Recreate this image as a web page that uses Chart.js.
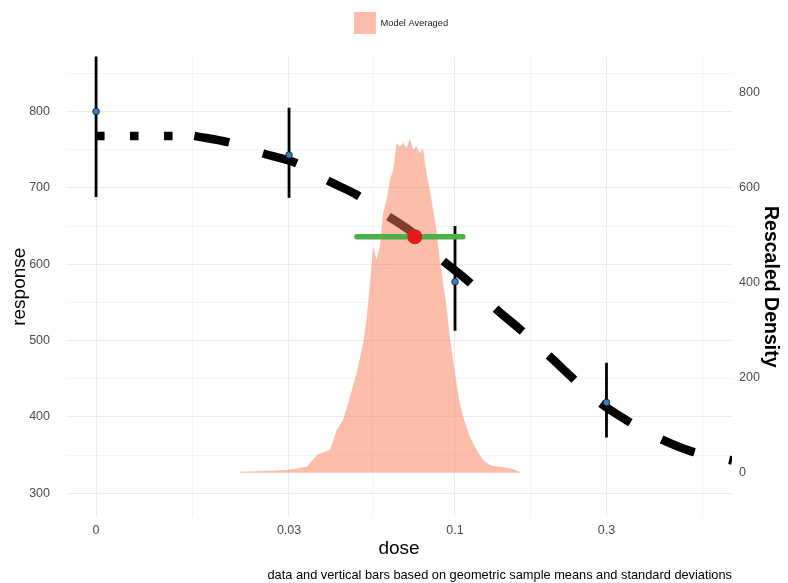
<!DOCTYPE html>
<html lang="en">
<head>
<meta charset="UTF-8" />
<title>Model averaged dose response</title>
<script src="https://cdn.jsdelivr.net/npm/chart.js"></script>
<style>
  body { margin: 0; background: #ffffff; }
  #wrap { width: 788px; height: 583px; }
</style>
</head>
<body>
<div id="wrap"><canvas id="doseChart" width="788" height="583"></canvas></div>
<script>
  // dose 0 has no place on a log axis, so it sits at this stand-in value
  const zeroDose = 0.0074;

  // observed groups (geometric mean and bar ends)
  const obsDose = [0, 0.03, 0.1, 0.3];
  const obsMean = [800, 743, 577, 419];
  const obsLow = [688, 687, 513, 373];
  const obsHigh = [930, 805, 650, 471];

  // model averaged curve: flat dotted piece, then dashed piece
  const flatDose = [0, 0.0151];
  const flatResp = [768, 768];
  const curveDose = [0.0151, 0.0196, 0.0249, 0.0318, 0.0395, 0.0494, 0.0610, 0.0731, 0.0908, 0.1113,
    0.1333, 0.1621, 0.1943, 0.2345, 0.2811, 0.3493, 0.4405, 0.5553, 0.7460];
  const curveResp = [768, 759, 745, 732, 710, 690, 664, 642, 606, 576,
    543, 513, 483, 451, 421, 395, 372, 355, 343];

  // BMD and its interval
  const bmdDose = [0.0747];
  const bmdResp = [636];
  const bmdRange = [0.0491, 0.1058];

  // rescaled density of the BMD
  const densDose = [0.0210, 0.0240, 0.0261, 0.0300, 0.0342, 0.0367, 0.0404, 0.0424, 0.0444, 0.0467,
    0.0490, 0.0514, 0.0527, 0.0539, 0.0552, 0.0566, 0.0580, 0.0594, 0.0609, 0.0624,
    0.0639, 0.0655, 0.0670, 0.0686, 0.0704, 0.0721, 0.0738, 0.0756, 0.0775, 0.0793,
    0.0813, 0.0833, 0.0853, 0.0874, 0.0895, 0.0917, 0.0940, 0.0963, 0.0986, 0.1010,
    0.1035, 0.1060, 0.1113, 0.1168, 0.1225, 0.1286, 0.1350, 0.1486, 0.1598];
  const densValue = [2, 3, 4, 6, 13, 37, 48, 90, 111, 160,
    210, 273, 328, 392, 476, 448, 476, 547, 574, 616,
    637, 693, 686, 694, 683, 704, 679, 686, 672, 683,
    630, 595, 553, 511, 448, 399, 349, 286, 237, 189,
    147, 118, 76, 48, 27, 16, 13, 10, 2];

  // axes
  const xTicks = [zeroDose, 0.0149, 0.03, 0.0548, 0.1, 0.1732, 0.3, 0.6034];
  const xLabels = ['0', '', '0.03', '', '0.1', '', '0.3', ''];
  const yTicks = [300, 350, 400, 450, 500, 550, 600, 650, 700, 750, 800, 850];
  const densTicks = [0, 200, 400, 600, 800];

  const caption = 'data and vertical bars based on geometric sample means and standard deviations';

  const pos = d => (d === 0 ? zeroDose : d);
  const pts = (xs, ys) => xs.map((x, i) => ({ x: pos(x), y: ys[i] }));

  const errData = [];
  obsDose.forEach((d, i) => {
    errData.push({ x: pos(d), y: obsLow[i] }, { x: pos(d), y: obsHigh[i] }, { x: pos(d), y: null });
  });

  Chart.defaults.font.family = "'Liberation Sans', Arial, sans-serif";
  const tickFont = { size: 12.5 };
  const tickColor = '#4D4D4D';
  const gridColor = '#EBEBEB';

  // ggplot leaves more room under the legend than Chart.js does,
  // and its key sits a little right of centre
  const legendGap = {
    id: 'legendGap',
    afterInit(chart) {
      const fit = chart.legend.fit;
      chart.legend.fit = function () {
        fit.call(this);
        this.height += 12.5;
        if (this.lineWidths) this.lineWidths[0] -= 14;
      };
    }
  };

  const captionPlugin = {
    id: 'caption',
    afterDraw(chart) {
      const ctx = chart.ctx;
      ctx.save();
      ctx.font = "12.8px 'Liberation Sans', Arial, sans-serif";
      ctx.fillStyle = '#000';
      ctx.textAlign = 'right';
      ctx.textBaseline = 'middle';
      ctx.fillText(caption, chart.chartArea.right, chart.height - 8);
      ctx.restore();
    }
  };

  new Chart(document.getElementById('doseChart'), {
    type: 'line',
    data: {
      datasets: [
        {
          label: 'flat',
          data: pts(flatDose, flatResp),
          borderColor: '#000',
          borderWidth: 8.5,
          borderDash: [8.5, 25.5],
          borderCapStyle: 'butt',
          pointRadius: 0,
          order: 6
        },
        {
          label: 'curve',
          data: pts(curveDose, curveResp),
          borderColor: '#000',
          borderWidth: 8.5,
          borderDash: [35.4, 35.4],
          borderCapStyle: 'butt',
          cubicInterpolationMode: 'monotone',
          pointRadius: 0,
          order: 6
        },
        {
          label: 'Model Averaged',
          data: pts(densDose, densValue),
          yAxisID: 'y2',
          borderWidth: 0,
          borderColor: 'rgba(0,0,0,0)',
          backgroundColor: 'rgba(250,125,85,0.5)',
          fill: 'origin',
          pointRadius: 0,
          order: 5
        },
        {
          label: 'bars',
          data: errData,
          borderColor: '#000',
          borderWidth: 2.8,
          borderCapStyle: 'butt',
          spanGaps: false,
          pointRadius: 0,
          order: 4
        },
        {
          label: 'means',
          data: pts(obsDose, obsMean),
          showLine: false,
          pointRadius: 3.3,
          pointBackgroundColor: '#3A7DC0',
          pointBorderColor: '#111',
          pointBorderWidth: 0.8,
          order: 3
        },
        {
          label: 'bmdl',
          data: pts(bmdRange, [bmdResp[0], bmdResp[0]]),
          borderColor: '#4DAF4A',
          borderWidth: 5.5,
          borderCapStyle: 'round',
          pointRadius: 0,
          order: 2
        },
        {
          label: 'bmd',
          data: pts(bmdDose, bmdResp),
          showLine: false,
          pointRadius: 7.5,
          pointBackgroundColor: '#E41A1C',
          pointBorderWidth: 0,
          order: 1
        }
      ]
    },
    options: {
      responsive: false,
      animation: false,
      layout: { padding: 0 },
      plugins: {
        legend: {
          position: 'top',
          labels: {
            boxWidth: 22,
            boxHeight: 22,
            padding: 12,
            color: '#222',
            font: { size: 9.3 },
            filter: item => item.text === 'Model Averaged'
          }
        },
        tooltip: { enabled: false }
      },
      scales: {
        x: {
          type: 'logarithmic',
          min: 0.00595,
          max: 0.7456,
          afterBuildTicks: s => { s.ticks = xTicks.map(v => ({ value: v })); },
          afterFit: s => { s.height = 66; },
          ticks: {
            autoSkip: false,
            maxRotation: 0,
            minRotation: 0,
            padding: 6,
            font: tickFont,
            color: tickColor,
            callback: (v, i) => xLabels[i]
          },
          grid: {
            color: gridColor,
            lineWidth: c => (xLabels[c.index] ? 1.1 : 0.55),
            drawTicks: false
          },
          border: { display: false },
          title: { display: true, text: 'dose', color: '#000', font: { size: 19 }, padding: { top: 0, bottom: 22.6 } }
        },
        y: {
          position: 'left',
          min: 269,
          max: 872,
          afterBuildTicks: s => { s.ticks = yTicks.map(v => ({ value: v })); },
          afterFit: s => { s.width = 66; },
          ticks: {
            padding: 16,
            font: tickFont,
            color: tickColor,
            callback: v => (v % 100 === 0 ? v : '')
          },
          grid: {
            color: gridColor,
            lineWidth: c => (c.tick && c.tick.value % 100 === 0 ? 1.1 : 0.55),
            drawTicks: false
          },
          border: { display: false },
          title: { display: true, text: 'response', color: '#000', font: { size: 19 }, padding: { top: 8, bottom: 0 } }
        },
        y2: {
          position: 'right',
          min: -93.2,
          max: 875.3,
          afterBuildTicks: s => { s.ticks = densTicks.map(v => ({ value: v })); },
          afterFit: s => { s.width = 56; },
          ticks: { padding: 7, font: tickFont, color: tickColor },
          grid: { display: false, drawTicks: false },
          border: { display: false },
          title: { display: true, text: 'Rescaled Density', color: '#000', font: { size: 19.5, weight: 'bold' }, padding: { top: 6, bottom: 0 } }
        }
      }
    },
    plugins: [legendGap, captionPlugin]
  });
</script>
</body>
</html>
